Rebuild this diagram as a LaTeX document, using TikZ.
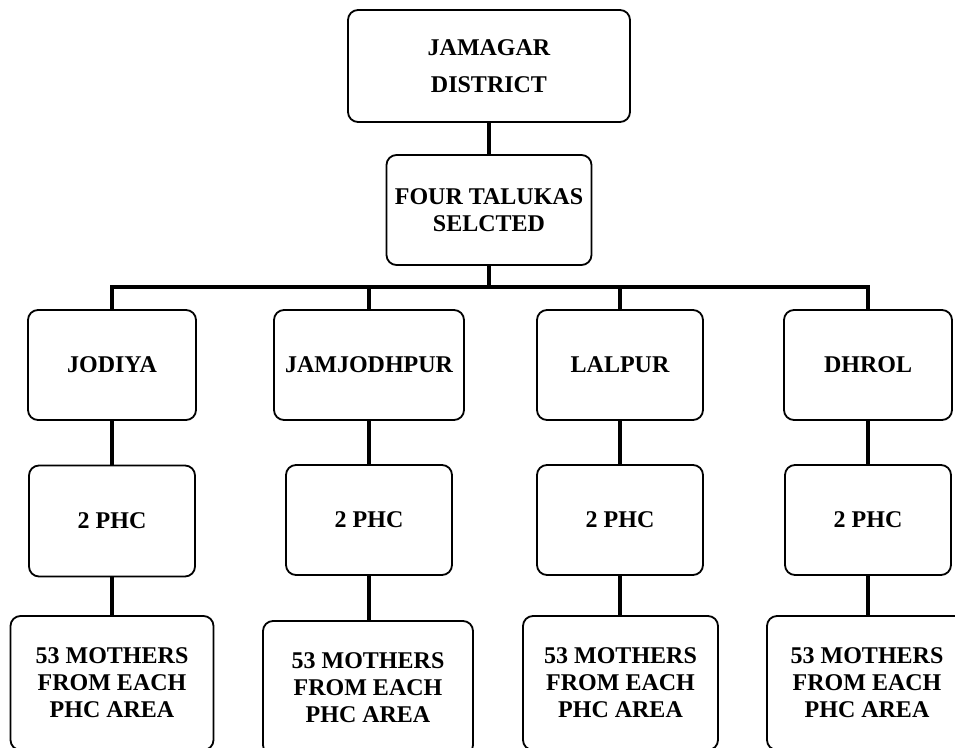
\documentclass[tikz,border=0pt]{standalone}
\usepackage{fontspec}
\setmainfont{Liberation Serif}
\begin{document}
\begin{tikzpicture}[x=1pt,y=-1pt,
  box/.style={draw=black,line width=1.8pt,rounded corners=10pt,fill=white,
    align=center,inner sep=0pt,font=\fontsize{24}{27}\selectfont\bfseries},
  link/.style={draw=black,line width=3.8pt}]
\useasboundingbox (0,0) rectangle (955,747);
% top levels
\node[box,minimum width=282pt,minimum height=112pt,font=\fontsize{24}{37}\selectfont\bfseries] (dist) at (489,66) {JAMAGAR\\DISTRICT};
\node[box,minimum width=205pt,minimum height=110pt] (tal) at (489,210) {FOUR TALUKAS\\SELCTED};
% talukas
\node[box,minimum width=168pt,minimum height=110pt] (t1) at (112,365) {JODIYA};
\node[box,minimum width=190pt,minimum height=110pt] (t2) at (369,365) {JAMJODHPUR};
\node[box,minimum width=166pt,minimum height=110pt] (t3) at (620,365) {LALPUR};
\node[box,minimum width=168pt,minimum height=110pt] (t4) at (868,365) {DHROL};
% PHC
\node[box,minimum width=166pt,minimum height=111pt] (p1) at (112,521) {2 PHC};
\node[box,minimum width=166pt,minimum height=110pt] (p2) at (369,520) {2 PHC};
\node[box,minimum width=166pt,minimum height=110pt] (p3) at (620,520) {2 PHC};
\node[box,minimum width=166pt,minimum height=110pt] (p4) at (868,520) {2 PHC};
% mothers
\node[box,minimum width=203pt,minimum height=134pt] (m1) at (112,683) {53 MOTHERS\\FROM EACH\\PHC AREA};
\node[box,minimum width=210pt,minimum height=134pt] (m2) at (368,688) {53 MOTHERS\\FROM EACH\\PHC AREA};
\node[box,minimum width=195pt,minimum height=134pt] (m3) at (620.5,683) {53 MOTHERS\\FROM EACH\\PHC AREA};
\node[box,minimum width=200pt,minimum height=134pt] (m4) at (867,683) {53 MOTHERS\\FROM EACH\\PHC AREA};
% connectors
\coordinate (bar) at (489,287);
\draw[link] (dist.south) -- (tal.north);
\draw[link] (tal.south) -- (bar);
\draw[link,line cap=rect] (t1.north) |- (bar) -| (t4.north);
\draw[link] (t2.north) -- (t2.north |- bar);
\draw[link] (t3.north) -- (t3.north |- bar);
\foreach \i in {1,...,4}{
  \draw[link] (t\i.south) -- (p\i.north);
  \draw[link] (p\i.south) -- (p\i.south |- m\i.north);
}
\end{tikzpicture}
\end{document}
